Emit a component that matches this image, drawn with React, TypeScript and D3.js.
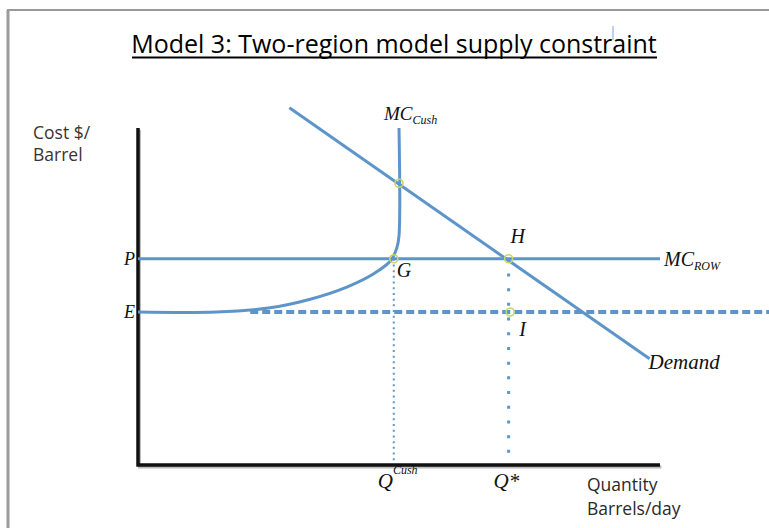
import { useEffect, useRef } from "react";
import * as d3 from "d3";

// chart values (economic units, x = quantity, y = cost)
const demandX = [29, 98];
const demandY = [106, 31.5];
const mcCushX = [0, 15, 25, 33, 40, 45, 48.4, 49.6, 50, 50];
const mcCushY = [45.4, 45.4, 46.6, 49.2, 52.8, 56.6, 60.6, 64.5, 68, 100];
const priceP = 61.2;
const priceE = 45.4;
const qCush = 49;
const qStar = 71;
const pointNames = ["", "G", "H", "I"];
const pointX = [50, 49, 71, 71.3];
const pointY = [83.6, 61.2, 61.2, 45.4];

const W = 769;
const H = 528;
const blue = "#5d95cb";
const serif = "'Liberation Serif', 'Times New Roman', serif";
const sans = "'Open Sans', Lato, sans-serif";

function drawChart(svgEl: SVGSVGElement) {
  const svg = d3.select(svgEl);
  svg.selectAll("*").remove();

  const x = d3.scaleLinear().domain([0, 100]).range([138, 660]);
  const y = d3.scaleLinear().domain([0, 100]).range([465, 128]);

  // frame
  svg.append("line").attr("x1", 7).attr("x2", W).attr("y1", 10).attr("y2", 10)
    .attr("stroke", "#9a9a9a").attr("stroke-width", 2);
  svg.append("line").attr("x1", 8).attr("x2", 8).attr("y1", 10).attr("y2", H)
    .attr("stroke", "#9a9a9a").attr("stroke-width", 3);
  svg.append("line").attr("x1", 613).attr("x2", 613).attr("y1", 26).attr("y2", 40)
    .attr("stroke", "#7aa6d8").attr("stroke-width", 1);

  // title
  svg.append("text")
    .attr("x", 394).attr("y", 53)
    .attr("text-anchor", "middle")
    .attr("font-family", sans).attr("font-size", 25)
    .attr("fill", "#000")
    .text("Model 3: Two-region model supply constraint");
  svg.append("line").attr("x1", 132).attr("x2", 657).attr("y1", 57.5).attr("y2", 57.5)
    .attr("stroke", "#000").attr("stroke-width", 2);

  // axis titles
  const yt = svg.append("text").attr("font-family", sans).attr("font-size", 17.5)
    .attr("fill", "#3b3330");
  yt.append("tspan").attr("x", 33).attr("y", 139).text("Cost $/");
  yt.append("tspan").attr("x", 33).attr("y", 161).text("Barrel");
  const xt = svg.append("text").attr("font-family", sans).attr("font-size", 17.5)
    .attr("fill", "#2a2a2a");
  xt.append("tspan").attr("x", 587).attr("y", 491).text("Quantity");
  xt.append("tspan").attr("x", 587).attr("y", 515).text("Barrels/day");

  // guide lines
  svg.append("line")
    .attr("x1", x(qCush)).attr("x2", x(qCush))
    .attr("y1", y(priceP)).attr("y2", y(0))
    .attr("stroke", blue).attr("stroke-width", 2)
    .attr("stroke-dasharray", "2,3.7");
  svg.append("line")
    .attr("x1", x(qStar)).attr("x2", x(qStar))
    .attr("y1", y(priceP)).attr("y2", y(0))
    .attr("stroke", blue).attr("stroke-width", 3)
    .attr("stroke-dasharray", "3,11.7");
  svg.append("line")
    .attr("x1", x(21.5)).attr("x2", W)
    .attr("y1", y(priceE)).attr("y2", y(priceE))
    .attr("stroke", blue).attr("stroke-width", 4)
    .attr("stroke-dasharray", "8,4");

  // axes with a soft shadow
  const axisPath = `M${x(0)},${y(100)}V${y(0)}H${x(100)}`;
  svg.append("path").attr("d", axisPath).attr("fill", "none")
    .attr("stroke", "#bbb").attr("stroke-width", 3)
    .attr("transform", "translate(1.5,2)");
  svg.append("path").attr("d", axisPath).attr("fill", "none")
    .attr("stroke", "#111").attr("stroke-width", 3.5);

  // MC_ROW
  svg.append("line")
    .attr("x1", x(0)).attr("x2", x(100))
    .attr("y1", y(priceP)).attr("y2", y(priceP))
    .attr("stroke", blue).attr("stroke-width", 3);

  // MC_Cush
  const line = d3.line<number>()
    .x((_, i) => x(mcCushX[i]))
    .y((d) => y(d))
    .curve(d3.curveCatmullRom.alpha(0.5));
  svg.append("path").datum(mcCushY).attr("d", line)
    .attr("fill", "none").attr("stroke", blue).attr("stroke-width", 3);

  // demand
  const dline = d3.line<number>()
    .x((_, i) => x(demandX[i]))
    .y((d) => y(d));
  svg.append("path").datum(demandY).attr("d", dline)
    .attr("fill", "none").attr("stroke", blue).attr("stroke-width", 3);

  // intersection markers
  svg.append("g").selectAll("circle")
    .data(pointNames)
    .join("circle")
    .attr("cx", (_, i) => x(pointX[i]))
    .attr("cy", (_, i) => y(pointY[i]))
    .attr("r", 4)
    .attr("fill", "none")
    .attr("stroke", "#c5d66a")
    .attr("stroke-width", 1.6);

  // point labels
  const labelDx = [0, 3, 2, 9];
  const labelDy = [0, 18, -16, 24];
  svg.append("g")
    .attr("font-family", serif).attr("font-style", "italic")
    .attr("font-size", 20).attr("fill", "#111")
    .selectAll("text")
    .data(pointNames)
    .join("text")
    .attr("x", (_, i) => x(pointX[i]) + labelDx[i])
    .attr("y", (_, i) => y(pointY[i]) + labelDy[i])
    .text((d) => d);

  // price labels on the y axis
  const pe = svg.append("g")
    .attr("font-family", serif).attr("font-style", "italic")
    .attr("font-size", 18).attr("fill", "#111")
    .attr("text-anchor", "end");
  pe.append("text").attr("x", x(0) - 3).attr("y", y(priceP) + 6).text("P");
  pe.append("text").attr("x", x(0) - 3).attr("y", y(priceE) + 6).text("E");

  // curve labels
  const lab = svg.append("g")
    .attr("font-family", serif).attr("font-style", "italic")
    .attr("fill", "#111");
  const mcc = lab.append("text").attr("x", x(50) - 15).attr("y", 120).attr("font-size", 19);
  mcc.append("tspan").text("MC");
  mcc.append("tspan").attr("font-size", 12).attr("dy", 4).text("Cush");
  const mcr = lab.append("text").attr("x", x(100) + 4).attr("y", y(priceP) + 7).attr("font-size", 20);
  mcr.append("tspan").text("MC");
  mcr.append("tspan").attr("font-size", 12).attr("dy", 4).text("ROW");
  lab.append("text").attr("x", x(demandX[1]) - 1).attr("y", y(demandY[1]) + 10)
    .attr("font-size", 21).text("Demand");

  // quantity tick labels
  const qc = lab.append("text").attr("x", x(qCush) - 16).attr("y", 488).attr("font-size", 21);
  qc.append("tspan").text("Q");
  qc.append("tspan").attr("font-size", 12).attr("dy", -14).text("Cush");
  lab.append("text").attr("x", x(qStar) - 15).attr("y", 488).attr("font-size", 21).text("Q*");
}

export default function App() {
  const ref = useRef<SVGSVGElement>(null);
  useEffect(() => {
    if (ref.current) drawChart(ref.current);
  }, []);
  return (
    <svg
      ref={ref}
      width={W}
      height={H}
      style={{ position: "absolute", left: 0, top: 0, background: "#fff" }}
    />
  );
}
